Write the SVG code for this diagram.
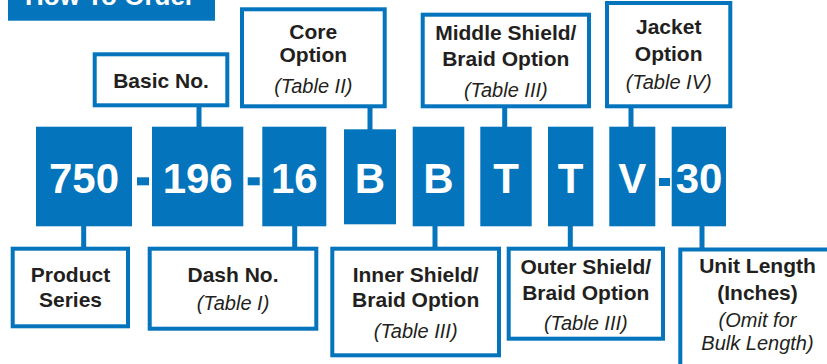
<svg xmlns="http://www.w3.org/2000/svg" width="827" height="364" viewBox="0 0 827 364">
  <style>
    .lbl { fill: #ffffff; stroke: #0474bc; stroke-width: 4; }
    .code { fill: #0474bc; }
    .code-t { font-family: "Liberation Sans", Arial, sans-serif; font-weight: bold; font-size: 42px; fill: #ffffff; text-anchor: middle; }
    .b { font-family: "Liberation Sans", Arial, sans-serif; font-weight: bold; font-size: 21px; fill: #231f20; text-anchor: middle; }
    .i { font-family: "Liberation Sans", Arial, sans-serif; font-style: italic; font-size: 20px; fill: #231f20; text-anchor: middle; }
    .conn { stroke: #0474bc; stroke-width: 5; fill: none; }
  </style>

  <!-- title banner -->
  <g id="title">
    <rect x="8" y="0" width="207" height="20.7" fill="#0474bc"/>
    <text x="25" y="4.5" font-family="Liberation Sans, Arial, sans-serif" font-weight="bold" font-size="26" fill="#ffffff">How To Order</text>
  </g>

  <!-- connectors -->
  <g id="connectors">
    <line class="conn" x1="199" y1="107" x2="199" y2="128"/>
    <line class="conn" x1="370" y1="108" x2="370" y2="130"/>
    <line class="conn" x1="504.7" y1="108" x2="504.7" y2="128"/>
    <line class="conn" x1="631" y1="108" x2="631" y2="128"/>
    <line class="conn" x1="83.7" y1="226" x2="83.7" y2="248"/>
    <line class="conn" x1="294.7" y1="226" x2="294.7" y2="248"/>
    <line class="conn" x1="435" y1="224" x2="435" y2="248"/>
    <line class="conn" x1="570.3" y1="226" x2="570.3" y2="248"/>
    <line class="conn" x1="702" y1="226" x2="702" y2="250"/>
  </g>

  <!-- part number code blocks -->
  <g id="code-750"><rect class="code" x="36" y="126.7" width="96" height="99.6"/><text class="code-t" x="84" y="193.3">750</text></g>
  <rect class="code" x="137" y="177.3" width="12" height="8"/>
  <g id="code-196"><rect class="code" x="152" y="126.7" width="91.3" height="99.6"/><text class="code-t" x="197.7" y="193.3">196</text></g>
  <rect class="code" x="247.7" y="177.3" width="12" height="8"/>
  <g id="code-16"><rect class="code" x="262.3" y="126.7" width="64" height="99.6"/><text class="code-t" x="294.3" y="193.3">16</text></g>
  <g id="code-b1"><rect class="code" x="344" y="129.3" width="52" height="95"/><text class="code-t" x="370" y="193.3">B</text></g>
  <g id="code-b2"><rect class="code" x="412.7" y="126.7" width="51.6" height="99.6"/><text class="code-t" x="438.5" y="193.3">B</text></g>
  <g id="code-t1"><rect class="code" x="480.3" y="126.7" width="51.4" height="99.6"/><text class="code-t" x="506" y="193.3">T</text></g>
  <g id="code-t2"><rect class="code" x="548" y="126.7" width="45.3" height="99.6"/><text class="code-t" x="570.7" y="193.3">T</text></g>
  <g id="code-v"><rect class="code" x="609.3" y="126.7" width="46" height="99.6"/><text class="code-t" x="632.3" y="193.3">V</text></g>
  <rect class="code" x="659" y="178" width="11" height="8"/>
  <g id="code-30"><rect class="code" x="671.7" y="126.7" width="54.3" height="99.6"/><text class="code-t" x="699" y="193.3">30</text></g>

  <!-- upper labels -->
  <g id="basic-no">
    <rect class="lbl" x="94.7" y="54.3" width="132.6" height="51"/>
    <text class="b" x="161" y="87.7">Basic No.</text>
  </g>
  <g id="core-option">
    <rect class="lbl" x="242" y="9.3" width="142.7" height="97"/>
    <text class="b" x="313.3" y="38.5">Core</text>
    <text class="b" x="313.3" y="62">Option</text>
    <text class="i" x="313.3" y="93">(Table II)</text>
  </g>
  <g id="middle-shield">
    <rect class="lbl" x="422.7" y="14.7" width="166.3" height="91.6"/>
    <text class="b" x="505.8" y="40">Middle Shield/</text>
    <text class="b" x="505.8" y="65.7">Braid Option</text>
    <text class="i" x="505.8" y="96.5">(Table III)</text>
  </g>
  <g id="jacket-option">
    <rect class="lbl" x="607" y="3" width="123.3" height="103.3"/>
    <text class="b" x="668.7" y="34">Jacket</text>
    <text class="b" x="668.7" y="61">Option</text>
    <text class="i" x="668.7" y="89.3">(Table IV)</text>
  </g>

  <!-- lower labels -->
  <g id="product-series">
    <rect class="lbl" x="12.7" y="248.7" width="115.3" height="77.6"/>
    <text class="b" x="70.5" y="281.7">Product</text>
    <text class="b" x="70.5" y="307.3">Series</text>
  </g>
  <g id="dash-no">
    <rect class="lbl" x="149.7" y="248.7" width="166.6" height="80"/>
    <text class="b" x="233" y="282.3">Dash No.</text>
    <text class="i" x="233" y="310">(Table I)</text>
  </g>
  <g id="inner-shield">
    <rect class="lbl" x="332.3" y="248.7" width="166.7" height="106.6"/>
    <text class="b" x="415.7" y="281.7">Inner Shield/</text>
    <text class="b" x="415.7" y="307.3">Braid Option</text>
    <text class="i" x="415.7" y="338.3">(Table III)</text>
  </g>
  <g id="outer-shield">
    <rect class="lbl" x="508.7" y="248.7" width="154.3" height="90"/>
    <text class="b" x="585.8" y="274">Outer Shield/</text>
    <text class="b" x="585.8" y="300">Braid Option</text>
    <text class="i" x="585.8" y="330">(Table III)</text>
  </g>
  <g id="unit-length">
    <rect class="lbl" x="680.3" y="249.5" width="200" height="200"/>
    <text class="b" x="757.5" y="272.7">Unit Length</text>
    <text class="b" x="757.5" y="300">(Inches)</text>
    <text class="i" x="757.5" y="327">(Omit for</text>
    <text class="i" x="757.5" y="350">Bulk Length)</text>
  </g>
</svg>
